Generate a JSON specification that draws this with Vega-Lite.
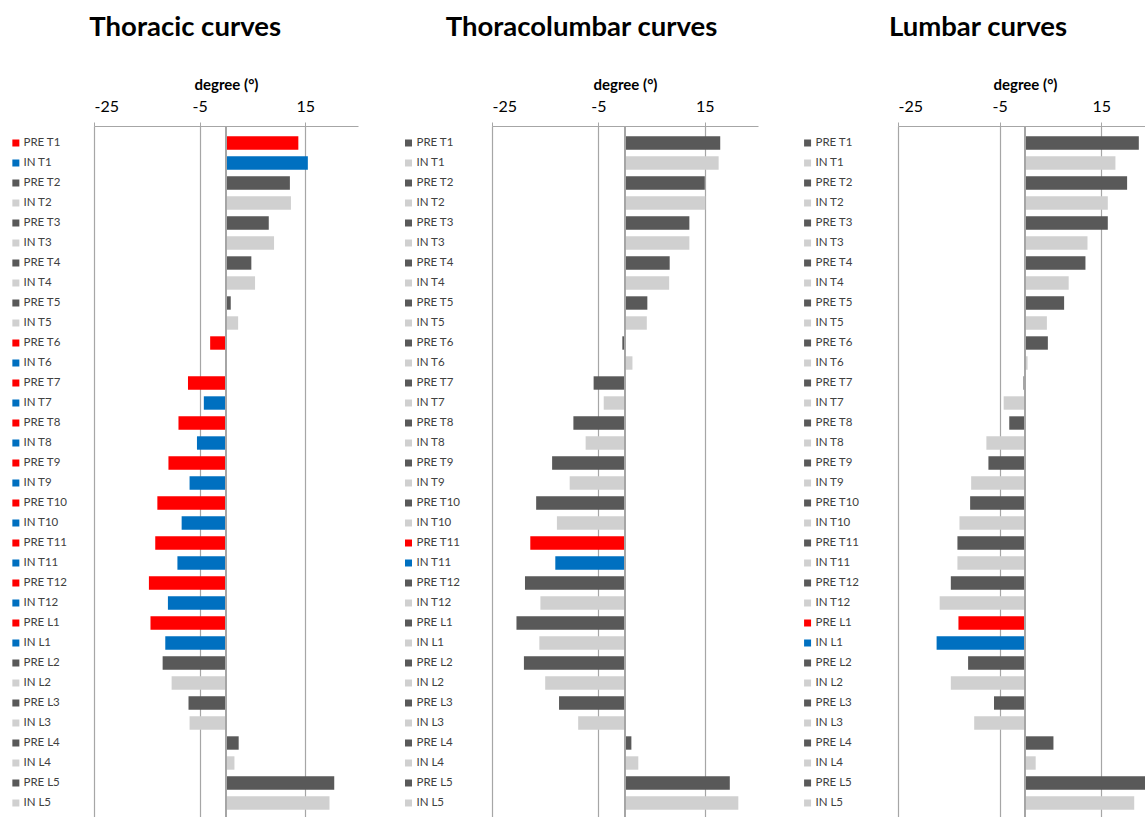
{
  "$schema": "https://vega.github.io/schema/vega-lite/v6.json",
  "padding": {"left": 12, "top": 13, "right": 0, "bottom": 0},
  "background": "white",
  "config": {
    "view": {"stroke": null},
    "font": "Lato",
    "axis": {"labelFont": "Lato", "titleFont": "Lato"}
  },
  "datasets": {
    "thor": [
      {"label": "PRE T1", "v": 13.7, "g": "PRE apex"},
      {"label": "IN T1", "v": 15.5, "g": "IN apex"},
      {"label": "PRE T2", "v": 12.1, "g": "PRE"},
      {"label": "IN T2", "v": 12.3, "g": "IN"},
      {"label": "PRE T3", "v": 8.1, "g": "PRE"},
      {"label": "IN T3", "v": 9.1, "g": "IN"},
      {"label": "PRE T4", "v": 4.8, "g": "PRE"},
      {"label": "IN T4", "v": 5.5, "g": "IN"},
      {"label": "PRE T5", "v": 0.9, "g": "PRE"},
      {"label": "IN T5", "v": 2.3, "g": "IN"},
      {"label": "PRE T6", "v": -3.0, "g": "PRE apex"},
      {"label": "IN T6", "v": 0.0, "g": "IN apex"},
      {"label": "PRE T7", "v": -7.2, "g": "PRE apex"},
      {"label": "IN T7", "v": -4.2, "g": "IN apex"},
      {"label": "PRE T8", "v": -9.0, "g": "PRE apex"},
      {"label": "IN T8", "v": -5.5, "g": "IN apex"},
      {"label": "PRE T9", "v": -10.9, "g": "PRE apex"},
      {"label": "IN T9", "v": -6.9, "g": "IN apex"},
      {"label": "PRE T10", "v": -13.0, "g": "PRE apex"},
      {"label": "IN T10", "v": -8.4, "g": "IN apex"},
      {"label": "PRE T11", "v": -13.4, "g": "PRE apex"},
      {"label": "IN T11", "v": -9.2, "g": "IN apex"},
      {"label": "PRE T12", "v": -14.6, "g": "PRE apex"},
      {"label": "IN T12", "v": -11.0, "g": "IN apex"},
      {"label": "PRE L1", "v": -14.3, "g": "PRE apex"},
      {"label": "IN L1", "v": -11.5, "g": "IN apex"},
      {"label": "PRE L2", "v": -12.0, "g": "PRE"},
      {"label": "IN L2", "v": -10.3, "g": "IN"},
      {"label": "PRE L3", "v": -7.1, "g": "PRE"},
      {"label": "IN L3", "v": -6.9, "g": "IN"},
      {"label": "PRE L4", "v": 2.4, "g": "PRE"},
      {"label": "IN L4", "v": 1.6, "g": "IN"},
      {"label": "PRE L5", "v": 20.5, "g": "PRE"},
      {"label": "IN L5", "v": 19.6, "g": "IN"}
    ],
    "tl": [
      {"label": "PRE T1", "v": 17.9, "g": "PRE"},
      {"label": "IN T1", "v": 17.6, "g": "IN"},
      {"label": "PRE T2", "v": 15.0, "g": "PRE"},
      {"label": "IN T2", "v": 15.1, "g": "IN"},
      {"label": "PRE T3", "v": 12.1, "g": "PRE"},
      {"label": "IN T3", "v": 12.1, "g": "IN"},
      {"label": "PRE T4", "v": 8.4, "g": "PRE"},
      {"label": "IN T4", "v": 8.3, "g": "IN"},
      {"label": "PRE T5", "v": 4.2, "g": "PRE"},
      {"label": "IN T5", "v": 4.1, "g": "IN"},
      {"label": "PRE T6", "v": -0.5, "g": "PRE"},
      {"label": "IN T6", "v": 1.4, "g": "IN"},
      {"label": "PRE T7", "v": -5.9, "g": "PRE"},
      {"label": "IN T7", "v": -4.0, "g": "IN"},
      {"label": "PRE T8", "v": -9.7, "g": "PRE"},
      {"label": "IN T8", "v": -7.4, "g": "IN"},
      {"label": "PRE T9", "v": -13.7, "g": "PRE"},
      {"label": "IN T9", "v": -10.4, "g": "IN"},
      {"label": "PRE T10", "v": -16.7, "g": "PRE"},
      {"label": "IN T10", "v": -12.8, "g": "IN"},
      {"label": "PRE T11", "v": -17.8, "g": "PRE apex"},
      {"label": "IN T11", "v": -13.1, "g": "IN apex"},
      {"label": "PRE T12", "v": -18.8, "g": "PRE"},
      {"label": "IN T12", "v": -15.9, "g": "IN"},
      {"label": "PRE L1", "v": -20.4, "g": "PRE"},
      {"label": "IN L1", "v": -16.1, "g": "IN"},
      {"label": "PRE L2", "v": -19.0, "g": "PRE"},
      {"label": "IN L2", "v": -15.0, "g": "IN"},
      {"label": "PRE L3", "v": -12.4, "g": "PRE"},
      {"label": "IN L3", "v": -8.8, "g": "IN"},
      {"label": "PRE L4", "v": 1.2, "g": "PRE"},
      {"label": "IN L4", "v": 2.5, "g": "IN"},
      {"label": "PRE L5", "v": 19.7, "g": "PRE"},
      {"label": "IN L5", "v": 21.3, "g": "IN"}
    ],
    "lum": [
      {"label": "PRE T1", "v": 22.4, "g": "PRE"},
      {"label": "IN T1", "v": 17.8, "g": "IN"},
      {"label": "PRE T2", "v": 20.1, "g": "PRE"},
      {"label": "IN T2", "v": 16.3, "g": "IN"},
      {"label": "PRE T3", "v": 16.3, "g": "PRE"},
      {"label": "IN T3", "v": 12.3, "g": "IN"},
      {"label": "PRE T4", "v": 11.9, "g": "PRE"},
      {"label": "IN T4", "v": 8.6, "g": "IN"},
      {"label": "PRE T5", "v": 7.7, "g": "PRE"},
      {"label": "IN T5", "v": 4.3, "g": "IN"},
      {"label": "PRE T6", "v": 4.5, "g": "PRE"},
      {"label": "IN T6", "v": 0.5, "g": "IN"},
      {"label": "PRE T7", "v": -0.3, "g": "PRE"},
      {"label": "IN T7", "v": -4.2, "g": "IN"},
      {"label": "PRE T8", "v": -3.1, "g": "PRE"},
      {"label": "IN T8", "v": -7.6, "g": "IN"},
      {"label": "PRE T9", "v": -7.2, "g": "PRE"},
      {"label": "IN T9", "v": -10.6, "g": "IN"},
      {"label": "PRE T10", "v": -10.8, "g": "PRE"},
      {"label": "IN T10", "v": -12.9, "g": "IN"},
      {"label": "PRE T11", "v": -13.3, "g": "PRE"},
      {"label": "IN T11", "v": -13.3, "g": "IN"},
      {"label": "PRE T12", "v": -14.6, "g": "PRE"},
      {"label": "IN T12", "v": -16.8, "g": "IN"},
      {"label": "PRE L1", "v": -13.1, "g": "PRE apex"},
      {"label": "IN L1", "v": -17.4, "g": "IN apex"},
      {"label": "PRE L2", "v": -11.2, "g": "PRE"},
      {"label": "IN L2", "v": -14.6, "g": "IN"},
      {"label": "PRE L3", "v": -6.1, "g": "PRE"},
      {"label": "IN L3", "v": -10.0, "g": "IN"},
      {"label": "PRE L4", "v": 5.6, "g": "PRE"},
      {"label": "IN L4", "v": 2.1, "g": "IN"},
      {"label": "PRE L5", "v": 24.5, "g": "PRE"},
      {"label": "IN L5", "v": 21.5, "g": "IN"}
    ]
  },
  "spacing": 46,
  "hconcat": [
    {
      "title": {"text": "Thoracic curves", "frame": "bounds", "anchor": "middle", "fontSize": 27.5, "fontWeight": "bold", "font": "Lato", "color": "#000000", "offset": 36},
      "width": 264,
      "height": 694,
      "data": {"name": "thor"},
      "layer": [
        {
          "mark": {"type": "bar"},
          "encoding": {
            "y": {"field": "label", "type": "nominal", "sort": null, "scale": {"paddingInner": 0.33, "paddingOuter": 0.515},
              "axis": {"title": null, "domain": false, "ticks": false, "labelAlign": "left", "labelPadding": 71, "labelFontSize": 11.5, "labelColor": "#404040", "labelFont": "Lato"}},
            "x": {"field": "v", "type": "quantitative", "scale": {"domain": [-25, 25], "nice": false, "zero": false},
              "axis": {"orient": "top", "title": "degree (°)", "titleFontSize": 15, "titleFontWeight": "bold", "titleColor": "#000000", "titlePadding": 6, "values": [-25, -5, 15], "labelExpr": "'' + datum.value", "labelFontSize": 16, "labelColor": "#000000", "labelPadding": 8, "tickSize": 4, "tickColor": "#A6A6A6", "domainColor": "#A6A6A6", "grid": true, "gridColor": "#A6A6A6", "gridWidth": 1.2}},
            "color": {"field": "g", "type": "nominal", "legend": null, "scale": {"domain": ["PRE apex", "IN apex", "PRE", "IN"], "range": ["#FF0000", "#0070C0", "#595959", "#D0D0D0"]}}
          }
        },
        {
          "mark": {"type": "rule", "color": "#A6A6A6", "strokeWidth": 1.2},
          "encoding": {"x": {"datum": 0}}
        },
        {
          "mark": {"type": "point", "shape": "square", "filled": true, "size": 49, "opacity": 1},
          "encoding": {
            "x": {"datum": -39.8},
            "y": {"field": "label", "type": "nominal", "sort": null},
            "color": {"field": "g", "type": "nominal", "legend": null}
          }
        }
      ]
    },
    {
      "title": {"text": "Thoracolumbar curves", "frame": "bounds", "anchor": "middle", "fontSize": 27.5, "fontWeight": "bold", "font": "Lato", "color": "#000000", "offset": 36},
      "width": 266,
      "height": 694,
      "data": {"name": "tl"},
      "layer": [
        {
          "mark": {"type": "bar"},
          "encoding": {
            "y": {"field": "label", "type": "nominal", "sort": null, "scale": {"paddingInner": 0.33, "paddingOuter": 0.515},
              "axis": {"title": null, "domain": false, "ticks": false, "labelAlign": "left", "labelPadding": 76, "labelFontSize": 11.5, "labelColor": "#404040", "labelFont": "Lato"}},
            "x": {"field": "v", "type": "quantitative", "scale": {"domain": [-25, 25], "nice": false, "zero": false},
              "axis": {"orient": "top", "title": "degree (°)", "titleFontSize": 15, "titleFontWeight": "bold", "titleColor": "#000000", "titlePadding": 6, "values": [-25, -5, 15], "labelExpr": "'' + datum.value", "labelFontSize": 16, "labelColor": "#000000", "labelPadding": 8, "tickSize": 4, "tickColor": "#A6A6A6", "domainColor": "#A6A6A6", "grid": true, "gridColor": "#A6A6A6", "gridWidth": 1.2}},
            "color": {"field": "g", "type": "nominal", "legend": null, "scale": {"domain": ["PRE apex", "IN apex", "PRE", "IN"], "range": ["#FF0000", "#0070C0", "#595959", "#D0D0D0"]}}
          }
        },
        {
          "mark": {"type": "rule", "color": "#A6A6A6", "strokeWidth": 1.2},
          "encoding": {"x": {"datum": 0}}
        },
        {
          "mark": {"type": "point", "shape": "square", "filled": true, "size": 49, "opacity": 1},
          "encoding": {
            "x": {"datum": -40.7},
            "y": {"field": "label", "type": "nominal", "sort": null},
            "color": {"field": "g", "type": "nominal", "legend": null}
          }
        }
      ]
    },
    {
      "title": {"text": "Lumbar curves", "frame": "bounds", "anchor": "middle", "fontSize": 27.5, "fontWeight": "bold", "font": "Lato", "color": "#000000", "offset": 36},
      "width": 254,
      "height": 694,
      "data": {"name": "lum"},
      "layer": [
        {
          "mark": {"type": "bar"},
          "encoding": {
            "y": {"field": "label", "type": "nominal", "sort": null, "scale": {"paddingInner": 0.33, "paddingOuter": 0.515},
              "axis": {"title": null, "domain": false, "ticks": false, "labelAlign": "left", "labelPadding": 83, "labelFontSize": 11.5, "labelColor": "#404040", "labelFont": "Lato"}},
            "x": {"field": "v", "type": "quantitative", "scale": {"domain": [-25, 25], "nice": false, "zero": false},
              "axis": {"orient": "top", "title": "degree (°)", "titleFontSize": 15, "titleFontWeight": "bold", "titleColor": "#000000", "titlePadding": 6, "values": [-25, -5, 15], "labelExpr": "'' + datum.value", "labelFontSize": 16, "labelColor": "#000000", "labelPadding": 8, "tickSize": 4, "tickColor": "#A6A6A6", "domainColor": "#A6A6A6", "grid": true, "gridColor": "#A6A6A6", "gridWidth": 1.2}},
            "color": {"field": "g", "type": "nominal", "legend": null, "scale": {"domain": ["PRE apex", "IN apex", "PRE", "IN"], "range": ["#FF0000", "#0070C0", "#595959", "#D0D0D0"]}}
          }
        },
        {
          "mark": {"type": "rule", "color": "#A6A6A6", "strokeWidth": 1.2},
          "encoding": {"x": {"datum": 0}}
        },
        {
          "mark": {"type": "point", "shape": "square", "filled": true, "size": 49, "opacity": 1},
          "encoding": {
            "x": {"datum": -42.8},
            "y": {"field": "label", "type": "nominal", "sort": null},
            "color": {"field": "g", "type": "nominal", "legend": null}
          }
        }
      ]
    }
  ]
}
